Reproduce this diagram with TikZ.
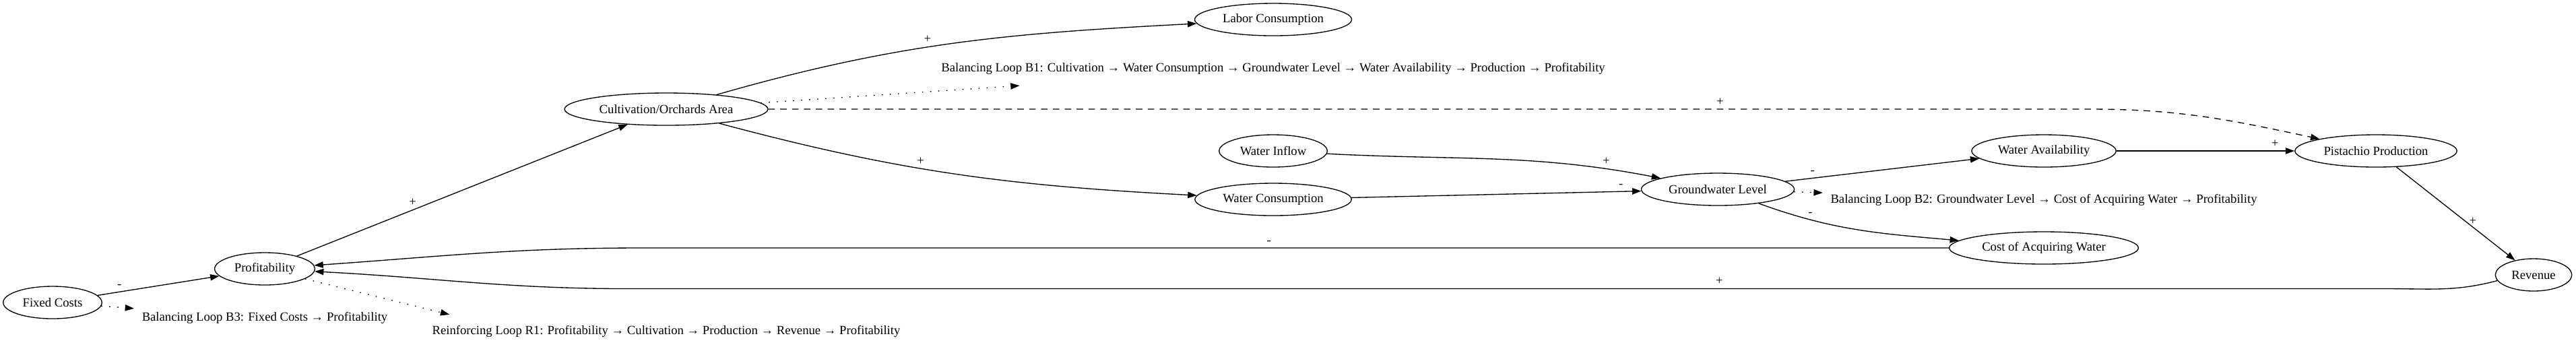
\documentclass[tikz,border=0pt]{standalone}
\usepackage{fontspec}
\setmainfont{Liberation Serif}
\usepackage{tikz}
\usetikzlibrary{arrows.meta,positioning,shapes.geometric}
\tikzset{
  varnode/.style={draw,ellipse,line width=0.25pt,inner xsep=1.4pt,inner ysep=0.5pt,
    minimum height=9pt,font=\fontsize{3.5}{4}\selectfont},
  looplabel/.style={inner xsep=2pt,inner ysep=0pt,minimum height=9pt,
    font=\fontsize{3.5}{4}\selectfont},
  causal/.style={-{Triangle[length=2.5pt,width=1.75pt]},line width=0.25pt},
  influence/.style={causal,dash pattern=on 1.8pt off 1.5pt},
  loopref/.style={causal,dash pattern=on 0.3pt off 1.95pt},
  polarity/.style={font=\fontsize{3.5}{4}\selectfont,inner sep=1pt}
}
\begin{document}
\begin{tikzpicture}[on grid,node distance=2.5pt]
      \useasboundingbox (0,0) rectangle (717pt,97.5pt);
      \node[varnode] (fc) at (14.625pt,13.3125pt) {Fixed Costs};
      \node[varnode,above right=9.375pt and 59.0625pt of fc] (pr) {Profitability};
      \node[varnode,above right=44.4375pt and 111.75pt of pr] (ca) {Cultivation/Orchards Area};
      \node[varnode,below right=25.125pt and 168.9375pt of ca] (wc) {Water Consumption};
      \node[varnode,above=13.5pt of wc] (wi) {Water Inflow};
      \node[varnode,above=50.0625pt of wc] (lc) {Labor Consumption};
      \node[varnode,above right=2.8125pt and 123.75pt of wc] (gw) {Groundwater Level};
      \node[varnode,above right=10.6875pt and 90.75pt of gw] (wa) {Water Availability};
      \node[varnode,below=27pt of wa] (caw) {Cost of Acquiring Water};
      \node[varnode,right=92.4375pt of wa] (pp) {Pistachio Production};
      \node[varnode,below right=34.5pt and 43.875pt of pp] (rv) {Revenue};
      \node[looplabel,below=13.6875pt of pr] (b3) {Balancing Loop B3: Fixed Costs → Profitability};
      \node[looplabel,below=61.875pt of ca] (r1) {Reinforcing Loop R1: Profitability → Cultivation → Production → Revenue → Profitability};
      \node[looplabel,above=36.375pt of wc] (b1) {Balancing Loop B1: Cultivation → Water Consumption → Groundwater Level → Water Availability → Production → Profitability};
      \node[looplabel,below=13.6875pt of wa] (b2) {Balancing Loop B2: Groundwater Level → Cost of Acquiring Water → Profitability};
      \draw[causal] (fc) -- node[polarity,pos=0.18,above]{-} (pr);
      \draw[causal] (pr) -- node[polarity,pos=0.35,above]{+} (ca);
      \draw[causal] (ca.16) to[out=16,in=183] node[polarity,pos=0.44,above]{+} (lc.183);
      \draw[causal] (ca.-15) to[out=-15,in=177] node[polarity,pos=0.42,above]{+} (wc.177);
      \draw[influence] (ca.east) -- node[polarity,pos=0.72,above]{+} ++(367.9pt,0) to[out=0,in=168] (pp.168);
      \draw[causal] (wi.-3) to[out=-3,in=169] node[polarity,pos=0.85,above]{+} (gw.169);
      \draw[causal] (wc) -- node[polarity,pos=0.93,above]{-} (gw);
      \draw[causal] (gw) -- node[polarity,pos=0.14,above]{-} (wa);
      \draw[causal] (gw.-19) to[out=-20,in=175] node[polarity,pos=0.25,above]{-} (caw.175);
      \draw[causal] (wa) -- node[polarity,pos=0.89,above]{+} (pp);
      \draw[causal] (pp) -- node[polarity,pos=0.58,right]{+} (rv);
      \draw[causal] (caw.west) -- node[polarity,pos=0.52,above]{-} ++(-363.9pt,0) to[out=180,in=4] (pr.4);
      \draw[causal] (rv.189) to[out=195,in=0] ++(-30.4pt,-2.25pt) -- node[polarity,pos=0.38,above]{+} ++(-489.75pt,0) to[out=180,in=-3] (pr.-3);
      \draw[loopref] (fc) -- (b3);
      \draw[loopref] (ca) -- (b1);
      \draw[loopref] (gw) -- (b2);
      \draw[loopref] (pr) -- ([xshift=7pt]r1.north west);
    \end{tikzpicture}
\end{document}
